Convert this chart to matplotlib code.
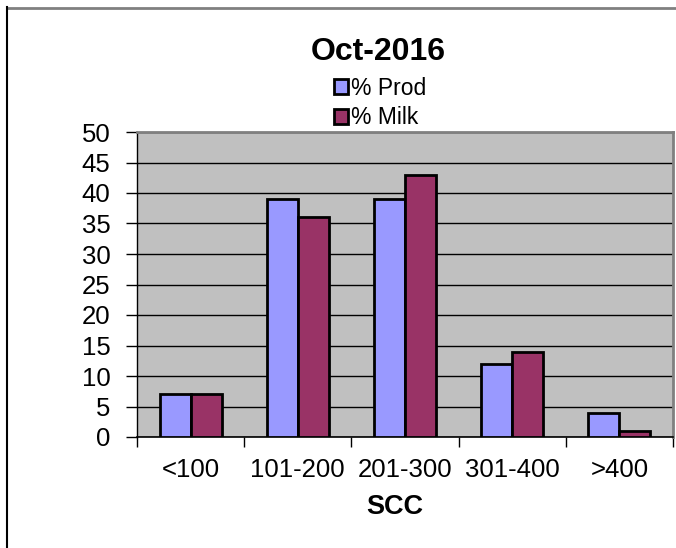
import matplotlib.pyplot as plt
import matplotlib.lines as mlines
import numpy as np

categories = ['<100', '101-200', '201-300', '301-400', '>400']
prod = [7, 39, 39, 12, 4]
milk = [7, 36, 43, 14, 1]

W, H = 676, 548
fig = plt.figure(figsize=(W / 100, H / 100), dpi=100)
plt.rcParams['font.family'] = ['Liberation Sans', 'DejaVu Sans']

ax = fig.add_axes([137 / W, 1 - 437 / H, 536 / W, 305 / H])
ax.set_facecolor('#C0C0C0')

x = np.arange(len(categories))
bw = 0.29
ax.bar(x - bw / 2, prod, bw, color='#9999FF', edgecolor='black', linewidth=2,
       label='% Prod', zorder=3)
ax.bar(x + bw / 2, milk, bw, color='#993366', edgecolor='black', linewidth=2,
       label='% Milk', zorder=3)

ax.set_xlim(-0.5, len(categories) - 0.5)
ax.set_ylim(0, 50)
ax.set_yticks(range(0, 51, 5))
ax.yaxis.grid(True, color='black', linewidth=1, zorder=1)
ax.set_axisbelow(True)

# category ticks at boundaries, labels centered
ax.set_xticks(np.arange(-0.5, len(categories), 1))
ax.set_xticklabels([])
ax.set_xticks(x, minor=True)
ax.set_xticklabels(categories, minor=True, fontsize=18.5)
ax.tick_params(axis='x', which='major', length=7, width=1, direction='out')
ax.tick_params(axis='x', which='minor', length=0, pad=15)
ax.tick_params(axis='y', length=8, width=1, direction='out', labelsize=18.5, pad=11)

for s in ['top', 'right']:
    ax.spines[s].set_color('#808080')
    ax.spines[s].set_linewidth(2)
ax.spines['left'].set_color('black')
ax.spines['bottom'].set_color('black')
ax.spines['left'].set_linewidth(1)
ax.spines['bottom'].set_linewidth(1.2)

fig.text(378 / W, 1 - 52 / H, 'Oct-2016', fontsize=23, fontweight='bold',
         ha='center', va='center')
fig.text(395 / W, 1 - 507 / H, 'SCC', fontsize=19.5, fontweight='bold',
         ha='center', va='center')

leg = fig.legend(loc='center', bbox_to_anchor=(380 / W, 1 - 103 / H), frameon=False,
                 fontsize=16.5, handlelength=0.6, handleheight=0.6, handletextpad=0.15,
                 labelspacing=0.3, borderpad=0)

# outer chart border (top and left visible)
fig.add_artist(mlines.Line2D([6.5 / W, 1], [1 - 7.5 / H, 1 - 7.5 / H], color='#808080',
                             linewidth=2, transform=fig.transFigure))
fig.add_artist(mlines.Line2D([6.5 / W, 6.5 / W], [0, 1 - 7 / H], color='black',
                             linewidth=1.5, transform=fig.transFigure))

fig.savefig('out.png', dpi=100)
